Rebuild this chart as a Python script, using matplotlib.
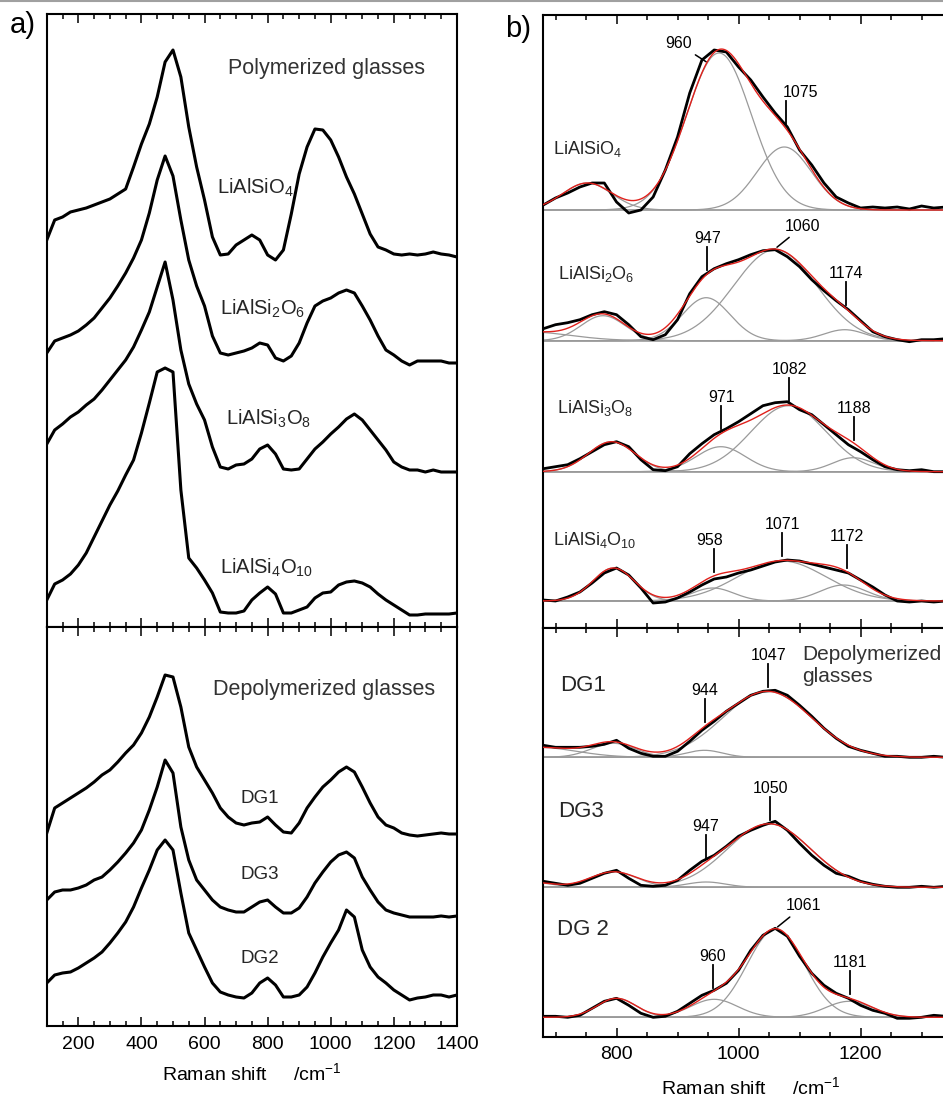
import numpy as np
import matplotlib.pyplot as plt
from matplotlib.ticker import MultipleLocator

plt.rcParams['font.family'] = ['Liberation Sans', 'DejaVu Sans']
plt.rcParams['mathtext.fontset'] = 'custom'
plt.rcParams['mathtext.rm'] = 'Liberation Sans'
plt.rcParams['mathtext.it'] = 'Liberation Sans:italic'
plt.rcParams['mathtext.bf'] = 'Liberation Sans:bold'
plt.rcParams['mathtext.default'] = 'regular'

# ---------------- a) full spectra, read every 25 cm-1 (height above own baseline)
shift_a = np.arange(100, 1401, 25)
lialsio4_a = [17, 37, 40, 45, 47, 49, 52, 55, 58, 63, 68, 90, 113, 133, 160, 195, 207, 180, 130, 90,
              57, 20, 2, 3, 12, 17, 22, 17, 2, -3, 7, 43, 83, 110, 128, 127, 117, 100, 80, 63,
              43, 23, 10, 7, 3, 2, 3, 2, 3, 5, 3, 2, 0]
lialsi2o6_a = [10, 22, 25, 28, 32, 38, 45, 55, 65, 77, 90, 105, 123, 150, 183, 207, 187, 143, 103, 77,
               57, 27, 10, 8, 10, 12, 15, 20, 18, 5, 2, 7, 20, 40, 57, 62, 65, 70, 73, 70,
               57, 43, 27, 13, 8, 2, -2, 2, 2, 2, 2, 0, 0]
lialsi3o8_a = [28, 42, 48, 55, 60, 67, 73, 82, 92, 102, 112, 125, 142, 160, 185, 210, 172, 122, 88, 68,
               52, 25, 5, 3, 7, 8, 13, 23, 27, 18, 3, 2, 3, 13, 23, 30, 38, 45, 53, 58,
               52, 42, 32, 22, 10, 5, 2, 2, 0, 2, 0, 0, 0]
lialsi4o10_a = [13, 29, 33, 39, 48, 60, 76, 92, 108, 122, 138, 153, 180, 210, 241, 245, 241, 123, 55, 45,
                33, 20, 1, 0, 0, 2, 13, 20, 26, 19, 0, 0, 3, 6, 15, 20, 21, 28, 31, 32,
                30, 26, 19, 13, 8, 3, -2, -2, -1, -1, -1, -1, 0]
dg1_a = [1, 26, 31, 36, 41, 46, 52, 59, 64, 72, 81, 89, 101, 117, 137, 159, 157, 127, 87, 67,
         54, 41, 26, 17, 11, 9, 11, 12, 17, 9, 2, 1, 11, 26, 37, 47, 54, 62, 67, 62,
         47, 31, 17, 9, 6, 1, -1, -2, -1, 0, 1, 0, 0]
dg3_a = [16, 24, 26, 26, 28, 31, 36, 39, 46, 54, 63, 73, 86, 106, 129, 156, 143, 89, 56, 36,
         26, 16, 9, 6, 4, 4, 9, 14, 16, 9, 3, 3, 8, 19, 33, 44, 54, 61, 64, 58,
         39, 26, 14, 6, 3, 1, -1, -1, -1, -1, 0, -1, 0]
dg2_a = [12, 20, 22, 23, 27, 32, 37, 43, 52, 62, 73, 88, 107, 125, 145, 155, 145, 102, 62, 45,
         28, 12, 3, 0, -2, -3, 2, 12, 17, 10, -2, -2, 0, 8, 22, 38, 52, 65, 85, 78,
         45, 28, 18, 12, 5, 0, -5, -3, -2, 0, 0, -2, 0]

# ---------------- b) high-frequency region, read every 20 cm-1
shift_b = np.arange(680, 1341, 20)
lialsio4_b = [5, 12, 17, 23, 27, 27, 8, -3, 0, 13, 40, 73, 117, 150, 160, 158, 143, 130, 113, 97,
              83, 60, 45, 27, 13, 7, 2, 3, 2, 3, 1, 4, 2, 3]
lialsi2o6_b = [12, 16, 18, 21, 26, 29, 26, 16, 4, 1, 6, 21, 47, 64, 72, 77, 81, 86, 90, 91,
               84, 74, 61, 50, 40, 31, 20, 9, 4, 1, -1, 1, 1, 2]
lialsi3o8_b = [3, 5, 7, 13, 20, 27, 30, 25, 12, 2, 1, 5, 18, 28, 37, 43, 50, 58, 66, 69,
               70, 62, 57, 47, 37, 27, 20, 12, 5, 2, 1, 2, 0, 0]
lialsi4o10_b = [1, 0, 4, 9, 18, 28, 33, 26, 13, -2, -1, 3, 9, 16, 22, 24, 28, 31, 35, 39,
                41, 40, 37, 34, 31, 28, 21, 14, 6, 0, -1, 0, -1, 0]
dg1_b = [12, 10, 10, 10, 11, 13, 17, 9, 4, 1, 1, 6, 16, 27, 36, 46, 54, 62, 66, 67,
         62, 52, 41, 29, 19, 11, 7, 4, 1, 1, 0, 0, 1, 0]
dg3_b = [6, 4, 2, 4, 9, 14, 17, 9, 2, 1, 2, 7, 17, 26, 32, 41, 51, 57, 62, 66,
         57, 44, 32, 22, 14, 11, 6, 3, 1, 0, 0, 1, 0, 1]
dg2_b = [1, 1, 0, 2, 9, 16, 19, 12, 4, 0, 1, 6, 14, 22, 27, 34, 47, 67, 82, 89,
         81, 61, 44, 32, 24, 19, 12, 7, 4, -1, -1, 0, 2, 1]

# fitted gaussian bands: centre (cm-1), height, fwhm (cm-1)
lialsio4_bands = ([752, 968, 1075], [27, 157, 63], [95, 125, 105])
lialsi2o6_bands = ([650, 778, 947, 1060, 1174], [9, 25, 43, 91, 11], [170, 85, 92, 160, 80])
lialsi3o8_bands = ([792, 971, 1082, 1188], [30, 25, 66, 14], [90, 95, 145, 80])
lialsi4o10_bands = ([795, 958, 1071, 1172], [33, 13, 40, 16], [80, 80, 170, 90])
dg1_bands = ([670, 795, 944, 1047], [10, 14, 7, 66], [150, 85, 70, 170])
dg3_bands = ([660, 795, 947, 1050], [5, 15.5, 5.3, 63.5], [80, 90, 75, 160])
dg2_bands = ([800, 960, 1061, 1181], [19, 18, 88, 16], [75, 90, 110, 90])

poly_names = [r'LiAlSiO$_4$', r'LiAlSi$_2$O$_6$', r'LiAlSi$_3$O$_8$', r'LiAlSi$_4$O$_{10}$']
depoly_names = ['DG1', 'DG3', 'DG2']

RED = '#e0201b'
GREY = '#9a9a9a'
W, H = 943, 1097


def gauss_bands(x, bands):
    comps = []
    for c, h, w in zip(*bands):
        comps.append(h * np.exp(-4 * np.log(2) * ((x - c) / w) ** 2))
    return comps, np.sum(comps, axis=0)


def px_axes(left, top, right, bottom):
    return fig.add_axes([left / W, 1 - bottom / H, (right - left) / W, (bottom - top) / H])


def style_axis(ax, major, minor, labels):
    ax.xaxis.set_major_locator(MultipleLocator(major))
    ax.xaxis.set_minor_locator(MultipleLocator(minor))
    ax.tick_params(axis='x', which='both', direction='in', top=True, bottom=True,
                   width=1.1, labelbottom=labels, labelsize=14, pad=7)
    ax.tick_params(axis='x', which='major', length=6.5)
    ax.tick_params(axis='x', which='minor', length=3.6)
    ax.set_yticks([])
    for s in ax.spines.values():
        s.set_linewidth(1.5)


fig = plt.figure(figsize=(W / 100, H / 100), dpi=100)
fig.add_artist(plt.Line2D([0, 1], [1 - 1 / H, 1 - 1 / H], color='#a0a0a0', lw=1.5,
                          transform=fig.transFigure))

# ---------------- panel a)
axA1 = px_axes(46.8, 14, 456.9, 627)
axA2 = px_axes(46.8, 627, 456.9, 1026)
for ax, hgt in ((axA1, 613), (axA2, 399)):
    ax.set_xlim(100, 1400)
    ax.set_ylim(0, hgt)
style_axis(axA1, 200, 50, False)
style_axis(axA2, 200, 50, True)

for y, off in zip([lialsio4_a, lialsi2o6_a, lialsi3o8_a, lialsi4o10_a], [370, 264, 155, 14]):
    axA1.plot(shift_a, off + np.array(y), color='k', lw=2.2)
for y, off in zip([dg1_a, dg3_a, dg2_a], [192, 110, 31]):
    axA2.plot(shift_a, off + np.array(y), color='k', lw=2.2)

txt = '#262626'
axA1.text(988, 553, 'Polymerized glasses', ha='center', va='baseline', fontsize=15.5, color='#333333')
for name, x, yb in zip(poly_names, [639, 649, 668, 649], [433, 312, 202, 53]):
    axA1.text(x, yb, name, ha='left', va='baseline', fontsize=14.5, color=txt)
axA2.text(979, 331, 'Depolymerized glasses', ha='center', va='baseline', fontsize=15.5, color='#333333')
for name, yb in zip(depoly_names, [223, 147, 63]):
    axA2.text(776, yb, name, ha='center', va='baseline', fontsize=13.5, color=txt)

fig.text(23 / W, 1 - 25 / H, 'a)', ha='center', va='center', fontsize=21)
fig.text(251.8 / W, 1 - 1073 / H, 'Raman shift     /cm$^{-1}$', ha='center', va='center', fontsize=14)

# ---------------- panel b)
axB1 = px_axes(543.3, 15, 946, 628.3)
axB2 = px_axes(543.3, 628.3, 946, 1036.7)
for ax, hgt in ((axB1, 613.3), (axB2, 408.4)):
    ax.set_xlim(680, 1340)
    ax.set_ylim(0, hgt)
    ax.spines['right'].set_visible(False)
style_axis(axB1, 200, 50, False)
style_axis(axB2, 200, 50, True)

xfine = np.linspace(680, 1340, 331)
px_per_cm = 0.61

# band labels: text, leader x, text dx (px), text dy (px), slanted leader
marks_top = [
    [('960', 947, -28, 18, True), ('1075', 1077, 15, 0, False)],
    [('947', 949, 0, 0, False), ('1060', 1063, 26, 21, True), ('1174', 1176, 0, 0, False)],
    [('971', 972, 0, 0, False), ('1082', 1083, 0, 0, False), ('1188', 1190, 0, 0, False)],
    [('958', 960, -5, 0, False), ('1071', 1072, 0, 0, False), ('1172', 1177, 0, 0, False)],
]
marks_bot = [
    [('944', 945, 0, 0, False), ('1047', 1049, 0, 0, False)],
    [('947', 946, 0, 0, False), ('1050', 1052, 0, 0, False)],
    [('960', 958, 0, 0, False), ('1061', 1064, 26, 21, True), ('1181', 1183, 0, 0, False)],
]


def draw_fits(ax, spectra, bands_list, offsets, marks):
    for y, bands, off, mk in zip(spectra, bands_list, offsets, marks):
        ax.axhline(off, color='#a0a0a0', lw=1.1, zorder=1)
        comps, fit = gauss_bands(xfine, bands)
        for g in comps:
            ax.plot(xfine, off + g, color=GREY, lw=0.9, zorder=2)
        ax.plot(shift_b, off + np.array(y), color='k', lw=2.0, zorder=3)
        ax.plot(xfine, off + fit, color=RED, lw=1.0, zorder=4)
        for label, xm, dx, dy, slant in mk:
            top = off + np.interp(xm, xfine, fit)
            if slant:
                ax.annotate(label, xy=(xm, top + 2), xytext=(dx, dy), textcoords='offset pixels',
                            ha='center', va='center', fontsize=11.5,
                            arrowprops=dict(arrowstyle='-', color='k', lw=1.1, shrinkA=1, shrinkB=0))
            else:
                ax.plot([xm, xm], [top + 4, top + 27], color='k', lw=1.3, zorder=5)
                ax.text(xm + dx / px_per_cm, top + 31, label, ha='center', va='baseline', fontsize=11.5)


draw_fits(axB1, [lialsio4_b, lialsi2o6_b, lialsi3o8_b, lialsi4o10_b],
          [lialsio4_bands, lialsi2o6_bands, lialsi3o8_bands, lialsi4o10_bands],
          [418.3, 287.6, 156.6, 27.3], marks_top)
draw_fits(axB2, [dg1_b, dg3_b, dg2_b], [dg1_bands, dg3_bands, dg2_bands],
          [279.4, 149.4, 19.4], marks_bot)

for name, x, yb in zip(poly_names, [696, 704, 702, 696], [474, 349, 215, 83]):
    axB1.text(x, yb, name, ha='left', va='baseline', fontsize=13, color=txt)
for name, x, yb in zip(['DG1', 'DG3', 'DG 2'], [707, 705, 702], [346, 220, 102]):
    axB2.text(x, yb, name, ha='left', va='baseline', fontsize=16, color=txt)
axB2.text(1105, 377, 'Depolymerized', ha='left', va='baseline', fontsize=15, color='#333333')
axB2.text(1105, 355, 'glasses', ha='left', va='baseline', fontsize=15, color='#333333')

fig.text(518 / W, 1 - 29 / H, 'b)', ha='center', va='center', fontsize=21)
fig.text(751 / W, 1 - 1087 / H, 'Raman shift     /cm$^{-1}$', ha='center', va='center', fontsize=14)

fig.savefig('out.png', dpi=100)
